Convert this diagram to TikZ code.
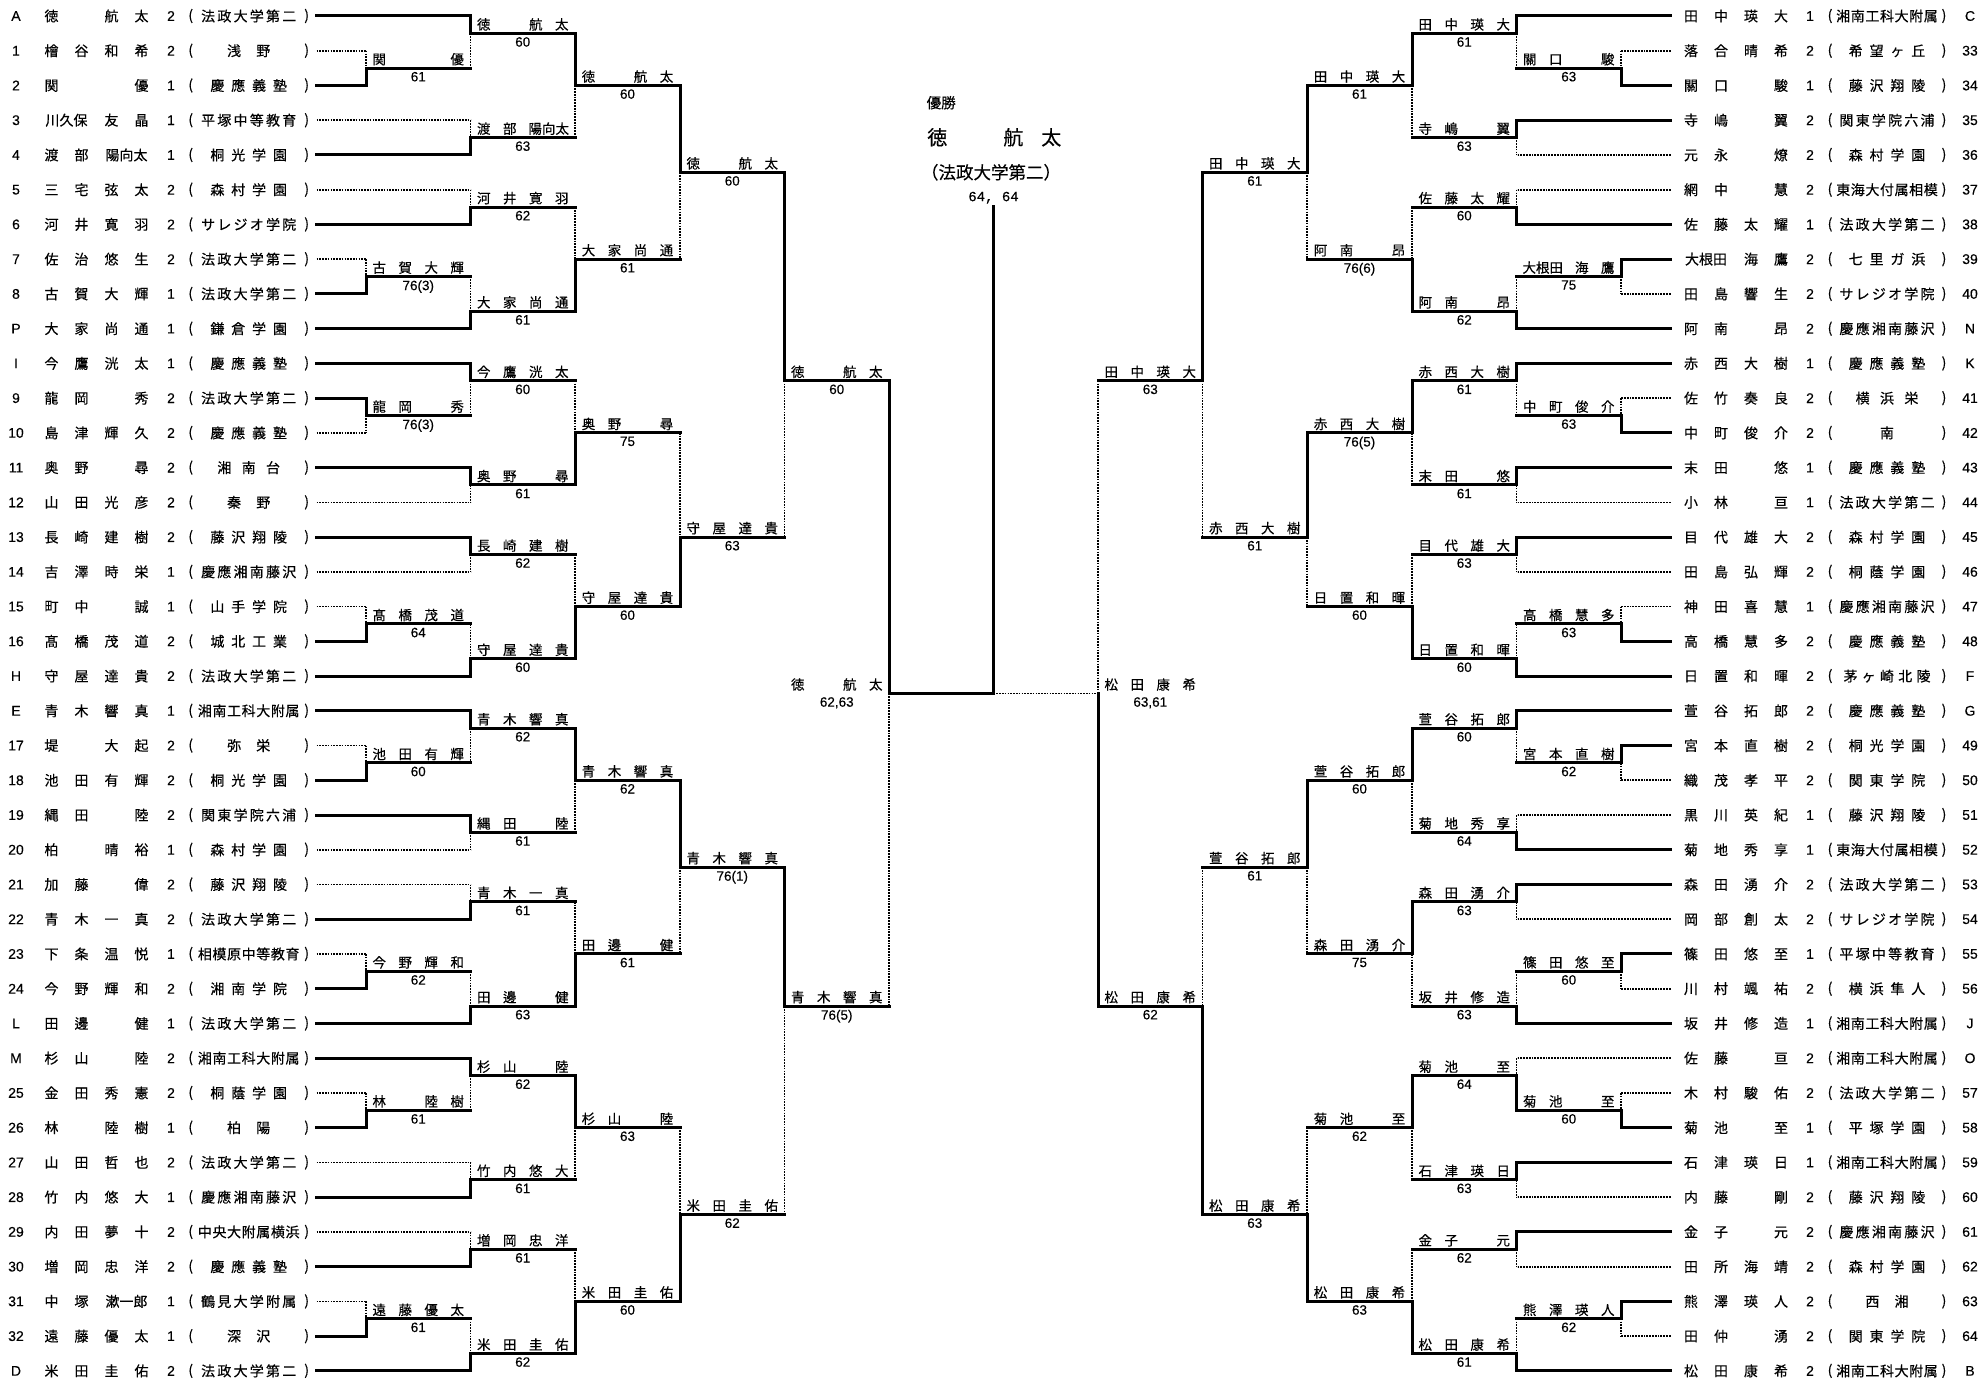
\documentclass[tikz,border=0pt]{standalone}
\usepackage{fontspec}
\setmainfont{Noto Sans CJK JP}
\newfontfamily\jp{Noto Sans CJK JP}[FakeBold=0.35]
\newfontfamily\ar{Liberation Sans}[FakeBold=0.25]
\newfontfamily\mo{Liberation Mono}[FakeBold=0.35]
\newlength\slw
\newcommand\Nq[1]{\makebox[\slw]{#1}}
\newcommand\Nd[1]{\makebox[2\slw]{#1}}
\ExplSyntaxOn
\NewDocumentCommand\spread{m}{\hfil\tl_map_inline:nn{#1}{##1\hfil}}
\NewDocumentCommand\nm{m}{\tl_map_inline:nn{#1}{\str_if_eq:nnTF{##1}{_}{\Nq{}}{\int_compare:nNnTF{\tl_count:n{##1}}>{1}{\Nd{##1}}{\Nq{##1}}}}}
\ExplSyntaxOff
\newcounter{nn}
\newcommand\NN{\stepcounter{nn}}
\def\xLa{316.5}\def\xLb{366}\def\xLc{470.5}\def\xLd{575}\def\xLe{680}\def\xLf{784.5}\def\xLg{889}\def\xCc{993.5}
\def\xRa{1670.5}\def\xRb{1621}\def\xRc{1516.5}\def\xRd{1412}\def\xRe{1307}\def\xRf{1202.5}\def\xRg{1098}
\tikzset{
 x=1pt, y=-1pt,
 W/.style={line width=3pt, line cap=rect},
 Dt/.style={line width=1.7pt, dash pattern=on 1.7pt off 1.1pt},
 txt/.style={inner sep=0pt, outer sep=0pt},
 nmf/.style={txt, font=\jp\fontsize{14}{16}\selectfont},
 arf/.style={txt, font=\ar\fontsize{14}{16}\selectfont},
 lab/.style={txt, anchor=base, font=\jp\fontsize{13.5}{15}\selectfont},
 sc/.style={txt, anchor=north, font=\ar\fontsize{13.5}{15}\selectfont},
}
\newcommand\K[1]{16+17.37*(#1)}
\newcommand\ent[4]{\draw[#4] (#1,{\K{#3}}) -- (#2,{\K{#3}});}
\newcommand\mres[5]{%
 \draw[W] (#1,{\K{#3}}) -- (#2,{\K{#3}});
 \NN\node[lab] (t\thenn) at ({(#1+#2)/2},{\K{#3}-3.8}) {\setlength\slw{26pt}\nm{#4}};
 \NN\node[sc] (t\thenn) at ({(#1+#2)/2},{\K{#3}+3.8}) {#5};}
\newcommand\mtT[7]{\draw[Dt] (#1,{\K{#5}}) -- (#1,{\K{#4}}); \draw[W] (#1,{\K{#3}}) -- (#1,{\K{#5}}); \mres{#1}{#2}{#5}{#6}{#7}}
\newcommand\mtB[7]{\draw[Dt] (#1,{\K{#3}}) -- (#1,{\K{#5}}); \draw[W] (#1,{\K{#5}}) -- (#1,{\K{#4}}); \mres{#1}{#2}{#5}{#6}{#7}}
\newcommand\rowL[5]{%
 \NN\node[arf] (t\thenn) at (16,{16+34.74*(#1)}) {#2};
 \NN\node[nmf,anchor=west] (t\thenn) at (36.5,{16+34.74*(#1)}) {\setlength\slw{30pt}\nm{#3}};
 \NN\node[arf] (t\thenn) at (171,{16+34.74*(#1)}) {#4};
 \NN\node[nmf] (t\thenn) at (190.7,{16+34.74*(#1)}) {(};
 \NN\node[nmf] (t\thenn) at (248.7,{16+34.74*(#1)}) {\makebox[104pt]{\spread{#5}}};
 \NN\node[nmf] (t\thenn) at (306.7,{16+34.74*(#1)}) {)};}
\newcommand\rowR[5]{%
 \NN\node[arf] (t\thenn) at (1970,{16+34.74*(#1)}) {#2};
 \NN\node[nmf,anchor=west] (t\thenn) at (1676,{16+34.74*(#1)}) {\setlength\slw{30pt}\nm{#3}};
 \NN\node[arf] (t\thenn) at (1810,{16+34.74*(#1)}) {#4};
 \NN\node[nmf] (t\thenn) at (1830,{16+34.74*(#1)}) {(};
 \NN\node[nmf] (t\thenn) at (1887,{16+34.74*(#1)}) {\makebox[104pt]{\spread{#5}}};
 \NN\node[nmf] (t\thenn) at (1944,{16+34.74*(#1)}) {)};}
\begin{document}
\begin{tikzpicture}
\useasboundingbox[fill=white] (0,0) rectangle (1981,1381);
% ---------------- left list
\rowL{0}{A}{徳_航太}{2}{法政大学第二}
\rowL{1}{1}{檜谷和希}{2}{浅野}
\rowL{2}{2}{関__優}{1}{慶應義塾}
\rowL{3}{3}{{川久保}友晶}{1}{平塚中等教育}
\rowL{4}{4}{渡部{陽向太}}{1}{桐光学園}
\rowL{5}{5}{三宅弦太}{2}{森村学園}
\rowL{6}{6}{河井寛羽}{2}{サレジオ学院}
\rowL{7}{7}{佐治悠生}{2}{法政大学第二}
\rowL{8}{8}{古賀大輝}{1}{法政大学第二}
\rowL{9}{P}{大家尚通}{1}{鎌倉学園}
\rowL{10}{I}{今鷹洸太}{1}{慶應義塾}
\rowL{11}{9}{龍岡_秀}{2}{法政大学第二}
\rowL{12}{10}{島津輝久}{2}{慶應義塾}
\rowL{13}{11}{奥野_尋}{2}{湘南台}
\rowL{14}{12}{山田光彦}{2}{秦野}
\rowL{15}{13}{長崎建樹}{2}{藤沢翔陵}
\rowL{16}{14}{吉澤時栄}{1}{慶應湘南藤沢}
\rowL{17}{15}{町中_誠}{1}{山手学院}
\rowL{18}{16}{髙橋茂道}{2}{城北工業}
\rowL{19}{H}{守屋達貴}{2}{法政大学第二}
\rowL{20}{E}{青木響真}{1}{湘南工科大附属}
\rowL{21}{17}{堤_大起}{2}{弥栄}
\rowL{22}{18}{池田有輝}{2}{桐光学園}
\rowL{23}{19}{縄田_陸}{2}{関東学院六浦}
\rowL{24}{20}{柏_晴裕}{1}{森村学園}
\rowL{25}{21}{加藤_偉}{2}{藤沢翔陵}
\rowL{26}{22}{青木一真}{2}{法政大学第二}
\rowL{27}{23}{下条温悦}{1}{相模原中等教育}
\rowL{28}{24}{今野輝和}{2}{湘南学院}
\rowL{29}{L}{田邊_健}{1}{法政大学第二}
\rowL{30}{M}{杉山_陸}{2}{湘南工科大附属}
\rowL{31}{25}{金田秀憲}{2}{桐蔭学園}
\rowL{32}{26}{林_陸樹}{1}{柏陽}
\rowL{33}{27}{山田哲也}{2}{法政大学第二}
\rowL{34}{28}{竹内悠大}{1}{慶應湘南藤沢}
\rowL{35}{29}{内田夢十}{2}{中央大附属横浜}
\rowL{36}{30}{増岡忠洋}{2}{慶應義塾}
\rowL{37}{31}{中塚{漱一郎}}{1}{鶴見大学附属}
\rowL{38}{32}{遠藤優太}{1}{深沢}
\rowL{39}{D}{米田圭佑}{2}{法政大学第二}
% ---------------- right list
\rowR{0}{C}{田中瑛大}{1}{湘南工科大附属}
\rowR{1}{33}{落合晴希}{2}{希望ヶ丘}
\rowR{2}{34}{關口_駿}{1}{藤沢翔陵}
\rowR{3}{35}{寺嶋_翼}{2}{関東学院六浦}
\rowR{4}{36}{元永_燎}{2}{森村学園}
\rowR{5}{37}{網中_慧}{2}{東海大付属相模}
\rowR{6}{38}{佐藤太耀}{1}{法政大学第二}
\rowR{7}{39}{{大根田}海鷹}{2}{七里ガ浜}
\rowR{8}{40}{田島響生}{2}{サレジオ学院}
\rowR{9}{N}{阿南_昂}{2}{慶應湘南藤沢}
\rowR{10}{K}{赤西大樹}{1}{慶應義塾}
\rowR{11}{41}{佐竹奏良}{2}{横浜栄}
\rowR{12}{42}{中町俊介}{2}{南}
\rowR{13}{43}{末田_悠}{1}{慶應義塾}
\rowR{14}{44}{小林_亘}{1}{法政大学第二}
\rowR{15}{45}{目代雄大}{2}{森村学園}
\rowR{16}{46}{田島弘輝}{2}{桐蔭学園}
\rowR{17}{47}{神田喜慧}{1}{慶應湘南藤沢}
\rowR{18}{48}{高橋慧多}{2}{慶應義塾}
\rowR{19}{F}{日置和暉}{2}{茅ヶ崎北陵}
\rowR{20}{G}{萱谷拓郎}{2}{慶應義塾}
\rowR{21}{49}{宮本直樹}{2}{桐光学園}
\rowR{22}{50}{織茂孝平}{2}{関東学院}
\rowR{23}{51}{黒川英紀}{1}{藤沢翔陵}
\rowR{24}{52}{菊地秀享}{1}{東海大付属相模}
\rowR{25}{53}{森田湧介}{2}{法政大学第二}
\rowR{26}{54}{岡部創太}{2}{サレジオ学院}
\rowR{27}{55}{篠田悠至}{1}{平塚中等教育}
\rowR{28}{56}{川村颯祐}{2}{横浜隼人}
\rowR{29}{J}{坂井修造}{1}{湘南工科大附属}
\rowR{30}{O}{佐藤_亘}{2}{湘南工科大附属}
\rowR{31}{57}{木村駿佑}{2}{法政大学第二}
\rowR{32}{58}{菊池_至}{1}{平塚学園}
\rowR{33}{59}{石津瑛日}{1}{湘南工科大附属}
\rowR{34}{60}{内藤_剛}{2}{藤沢翔陵}
\rowR{35}{61}{金子_元}{2}{慶應湘南藤沢}
\rowR{36}{62}{田所海靖}{2}{森村学園}
\rowR{37}{63}{熊澤瑛人}{2}{西湘}
\rowR{38}{64}{田仲_湧}{2}{関東学院}
\rowR{39}{B}{松田康希}{2}{湘南工科大附属}
% ---------------- left entries
\ent{\xLa}{\xLc}{0}{W}\ent{\xLa}{\xLb}{2}{Dt}\ent{\xLa}{\xLb}{4}{W}\ent{\xLa}{\xLc}{6}{Dt}\ent{\xLa}{\xLc}{8}{W}
\ent{\xLa}{\xLc}{10}{Dt}\ent{\xLa}{\xLc}{12}{W}\ent{\xLa}{\xLb}{14}{Dt}\ent{\xLa}{\xLb}{16}{W}\ent{\xLa}{\xLc}{18}{W}
\ent{\xLa}{\xLc}{20}{W}\ent{\xLa}{\xLb}{22}{W}\ent{\xLa}{\xLb}{24}{Dt}\ent{\xLa}{\xLc}{26}{W}\ent{\xLa}{\xLc}{28}{Dt}
\ent{\xLa}{\xLc}{30}{W}\ent{\xLa}{\xLc}{32}{Dt}\ent{\xLa}{\xLb}{34}{Dt}\ent{\xLa}{\xLb}{36}{W}\ent{\xLa}{\xLc}{38}{W}
\ent{\xLa}{\xLc}{40}{W}\ent{\xLa}{\xLb}{42}{Dt}\ent{\xLa}{\xLb}{44}{W}\ent{\xLa}{\xLc}{46}{W}\ent{\xLa}{\xLc}{48}{Dt}
\ent{\xLa}{\xLc}{50}{Dt}\ent{\xLa}{\xLc}{52}{W}\ent{\xLa}{\xLb}{54}{Dt}\ent{\xLa}{\xLb}{56}{W}\ent{\xLa}{\xLc}{58}{W}
\ent{\xLa}{\xLc}{60}{W}\ent{\xLa}{\xLb}{62}{Dt}\ent{\xLa}{\xLb}{64}{W}\ent{\xLa}{\xLc}{66}{Dt}\ent{\xLa}{\xLc}{68}{W}
\ent{\xLa}{\xLc}{70}{Dt}\ent{\xLa}{\xLc}{72}{W}\ent{\xLa}{\xLb}{74}{Dt}\ent{\xLa}{\xLb}{76}{W}\ent{\xLa}{\xLc}{78}{W}
% ---------------- left matches
\mtB{\xLb}{\xLc}{2}{4}{3}{関__優}{61}
\mtT{\xLc}{\xLd}{0}{3}{1}{徳_航太}{60}
\mtB{\xLc}{\xLd}{6}{8}{7}{渡部{陽向太}}{63}
\mtT{\xLd}{\xLe}{1}{7}{4}{徳_航太}{60}
\mtB{\xLc}{\xLd}{10}{12}{11}{河井寛羽}{62}
\mtB{\xLb}{\xLc}{14}{16}{15}{古賀大輝}{76(3)}
\mtB{\xLc}{\xLd}{15}{18}{17}{大家尚通}{61}
\mtB{\xLd}{\xLe}{11}{17}{14}{大家尚通}{61}
\mtT{\xLe}{\xLf}{4}{14}{9}{徳_航太}{60}
\mtT{\xLb}{\xLc}{22}{24}{23}{龍岡_秀}{76(3)}
\mtT{\xLc}{\xLd}{20}{23}{21}{今鷹洸太}{60}
\mtT{\xLc}{\xLd}{26}{28}{27}{奥野_尋}{61}
\mtB{\xLd}{\xLe}{21}{27}{24}{奥野_尋}{75}
\mtT{\xLc}{\xLd}{30}{32}{31}{長崎建樹}{62}
\mtB{\xLb}{\xLc}{34}{36}{35}{髙橋茂道}{64}
\mtB{\xLc}{\xLd}{35}{38}{37}{守屋達貴}{60}
\mtB{\xLd}{\xLe}{31}{37}{34}{守屋達貴}{60}
\mtB{\xLe}{\xLf}{24}{34}{30}{守屋達貴}{63}
\mtT{\xLf}{\xLg}{9}{30}{21}{徳_航太}{60}
\mtB{\xLb}{\xLc}{42}{44}{43}{池田有輝}{60}
\mtT{\xLc}{\xLd}{40}{43}{41}{青木響真}{62}
\mtT{\xLc}{\xLd}{46}{48}{47}{縄田_陸}{61}
\mtT{\xLd}{\xLe}{41}{47}{44}{青木響真}{62}
\mtB{\xLc}{\xLd}{50}{52}{51}{青木一真}{61}
\mtB{\xLb}{\xLc}{54}{56}{55}{今野輝和}{62}
\mtB{\xLc}{\xLd}{55}{58}{57}{田邊_健}{63}
\mtB{\xLd}{\xLe}{51}{57}{54}{田邊_健}{61}
\mtT{\xLe}{\xLf}{44}{54}{49}{青木響真}{76(1)}
\mtB{\xLb}{\xLc}{62}{64}{63}{林_陸樹}{61}
\mtT{\xLc}{\xLd}{60}{63}{61}{杉山_陸}{62}
\mtB{\xLc}{\xLd}{66}{68}{67}{竹内悠大}{61}
\mtT{\xLd}{\xLe}{61}{67}{64}{杉山_陸}{63}
\mtB{\xLc}{\xLd}{70}{72}{71}{増岡忠洋}{61}
\mtB{\xLb}{\xLc}{74}{76}{75}{遠藤優太}{61}
\mtB{\xLc}{\xLd}{75}{78}{77}{米田圭佑}{62}
\mtB{\xLd}{\xLe}{71}{77}{74}{米田圭佑}{60}
\mtB{\xLe}{\xLf}{64}{74}{69}{米田圭佑}{62}
\mtT{\xLf}{\xLg}{49}{69}{57}{青木響真}{76(5)}
% ---------------- right entries
\ent{\xRa}{\xRc}{0}{W}\ent{\xRa}{\xRb}{2}{Dt}\ent{\xRa}{\xRb}{4}{W}\ent{\xRa}{\xRc}{6}{W}\ent{\xRa}{\xRc}{8}{Dt}
\ent{\xRa}{\xRc}{10}{Dt}\ent{\xRa}{\xRc}{12}{W}\ent{\xRa}{\xRb}{14}{W}\ent{\xRa}{\xRb}{16}{Dt}\ent{\xRa}{\xRc}{18}{W}
\ent{\xRa}{\xRc}{20}{W}\ent{\xRa}{\xRb}{22}{Dt}\ent{\xRa}{\xRb}{24}{W}\ent{\xRa}{\xRc}{26}{W}\ent{\xRa}{\xRc}{28}{Dt}
\ent{\xRa}{\xRc}{30}{W}\ent{\xRa}{\xRc}{32}{Dt}\ent{\xRa}{\xRb}{34}{Dt}\ent{\xRa}{\xRb}{36}{W}\ent{\xRa}{\xRc}{38}{W}
\ent{\xRa}{\xRc}{40}{W}\ent{\xRa}{\xRb}{42}{W}\ent{\xRa}{\xRb}{44}{Dt}\ent{\xRa}{\xRc}{46}{Dt}\ent{\xRa}{\xRc}{48}{W}
\ent{\xRa}{\xRc}{50}{W}\ent{\xRa}{\xRc}{52}{Dt}\ent{\xRa}{\xRb}{54}{W}\ent{\xRa}{\xRb}{56}{Dt}\ent{\xRa}{\xRc}{58}{W}
\ent{\xRa}{\xRc}{60}{Dt}\ent{\xRa}{\xRb}{62}{Dt}\ent{\xRa}{\xRb}{64}{W}\ent{\xRa}{\xRc}{66}{W}\ent{\xRa}{\xRc}{68}{Dt}
\ent{\xRa}{\xRc}{70}{W}\ent{\xRa}{\xRc}{72}{Dt}\ent{\xRa}{\xRb}{74}{W}\ent{\xRa}{\xRb}{76}{Dt}\ent{\xRa}{\xRc}{78}{W}
% ---------------- right matches
\mtB{\xRb}{\xRc}{2}{4}{3}{關口_駿}{63}
\mtT{\xRc}{\xRd}{0}{3}{1}{田中瑛大}{61}
\mtT{\xRc}{\xRd}{6}{8}{7}{寺嶋_翼}{63}
\mtT{\xRd}{\xRe}{1}{7}{4}{田中瑛大}{61}
\mtB{\xRc}{\xRd}{10}{12}{11}{佐藤太耀}{60}
\mtT{\xRb}{\xRc}{14}{16}{15}{{大根田}海鷹}{75}
\mtB{\xRc}{\xRd}{15}{18}{17}{阿南_昂}{62}
\mtB{\xRd}{\xRe}{11}{17}{14}{阿南_昂}{76(6)}
\mtT{\xRe}{\xRf}{4}{14}{9}{田中瑛大}{61}
\mtB{\xRb}{\xRc}{22}{24}{23}{中町俊介}{63}
\mtT{\xRc}{\xRd}{20}{23}{21}{赤西大樹}{61}
\mtT{\xRc}{\xRd}{26}{28}{27}{末田_悠}{61}
\mtT{\xRd}{\xRe}{21}{27}{24}{赤西大樹}{76(5)}
\mtT{\xRc}{\xRd}{30}{32}{31}{目代雄大}{63}
\mtB{\xRb}{\xRc}{34}{36}{35}{高橋慧多}{63}
\mtB{\xRc}{\xRd}{35}{38}{37}{日置和暉}{60}
\mtB{\xRd}{\xRe}{31}{37}{34}{日置和暉}{60}
\mtT{\xRe}{\xRf}{24}{34}{30}{赤西大樹}{61}
\mtT{\xRf}{\xRg}{9}{30}{21}{田中瑛大}{63}
\mtT{\xRb}{\xRc}{42}{44}{43}{宮本直樹}{62}
\mtT{\xRc}{\xRd}{40}{43}{41}{萱谷拓郎}{60}
\mtB{\xRc}{\xRd}{46}{48}{47}{菊地秀享}{64}
\mtT{\xRd}{\xRe}{41}{47}{44}{萱谷拓郎}{60}
\mtT{\xRc}{\xRd}{50}{52}{51}{森田湧介}{63}
\mtT{\xRb}{\xRc}{54}{56}{55}{篠田悠至}{60}
\mtB{\xRc}{\xRd}{55}{58}{57}{坂井修造}{63}
\mtT{\xRd}{\xRe}{51}{57}{54}{森田湧介}{75}
\mtT{\xRe}{\xRf}{44}{54}{49}{萱谷拓郎}{61}
\mtB{\xRb}{\xRc}{62}{64}{63}{菊池_至}{60}
\mtB{\xRc}{\xRd}{60}{63}{61}{菊池_至}{64}
\mtT{\xRc}{\xRd}{66}{68}{67}{石津瑛日}{63}
\mtT{\xRd}{\xRe}{61}{67}{64}{菊池_至}{62}
\mtT{\xRc}{\xRd}{70}{72}{71}{金子_元}{62}
\mtT{\xRb}{\xRc}{74}{76}{75}{熊澤瑛人}{62}
\mtB{\xRc}{\xRd}{75}{78}{77}{松田康希}{61}
\mtB{\xRd}{\xRe}{71}{77}{74}{松田康希}{63}
\mtB{\xRe}{\xRf}{64}{74}{69}{松田康希}{63}
\mtB{\xRf}{\xRg}{49}{69}{57}{松田康希}{62}
% ---------------- semifinals and final
\coordinate (fL) at (\xLg,{\K{39}});
\coordinate (fC) at (\xCc,{\K{39}});
\coordinate (fR) at (\xRg,{\K{39}});
\coordinate (top) at (\xCc,206.7);
\draw[Dt] (fL) -- (\xLg,{\K{57}});
\draw[W] (\xLg,{\K{21}}) -- (fL);
\draw[Dt] (fC) -- (fR);
\draw[Dt] (\xRg,{\K{21}}) -- (fR);
\draw[W] (fR) -- (\xRg,{\K{57}});
\draw[W] (fL) -- (fC);
\draw[W] (top) -- (fC);
\node[lab] (semiL) at ({(\xLf+\xLg)/2},{\K{39}-3.8}) {\setlength\slw{26pt}\nm{徳_航太}};
\node[sc] (semiLs) at ({(\xLf+\xLg)/2},{\K{39}+3.8}) {62,63};
\node[lab] (semiR) at ({(\xRf+\xRg)/2},{\K{39}-3.8}) {\setlength\slw{26pt}\nm{松田康希}};
\node[sc] (semiRs) at ({(\xRf+\xRg)/2},{\K{39}+3.8}) {63,61};
% ---------------- champion
\node[txt, anchor=west, font=\jp\fontsize{14.5}{16}\selectfont] (yusho) at (926.7,102.7) {優勝};
\node[txt, anchor=west, font=\jp\fontsize{20}{22}\selectfont] (champ) at (918.3,137.3) {\setlength\slw{38pt}\nm{徳_航太}};
\node[txt, anchor=west, font=\jp\fontsize{17.5}{19}\selectfont] (champs) at (921,172.3) {（法政大学第二）};
\node[txt, font=\mo\fontsize{14}{16}\selectfont] (champsc) at (\xCc,197.7) {64, 64};
\end{tikzpicture}
\end{document}
